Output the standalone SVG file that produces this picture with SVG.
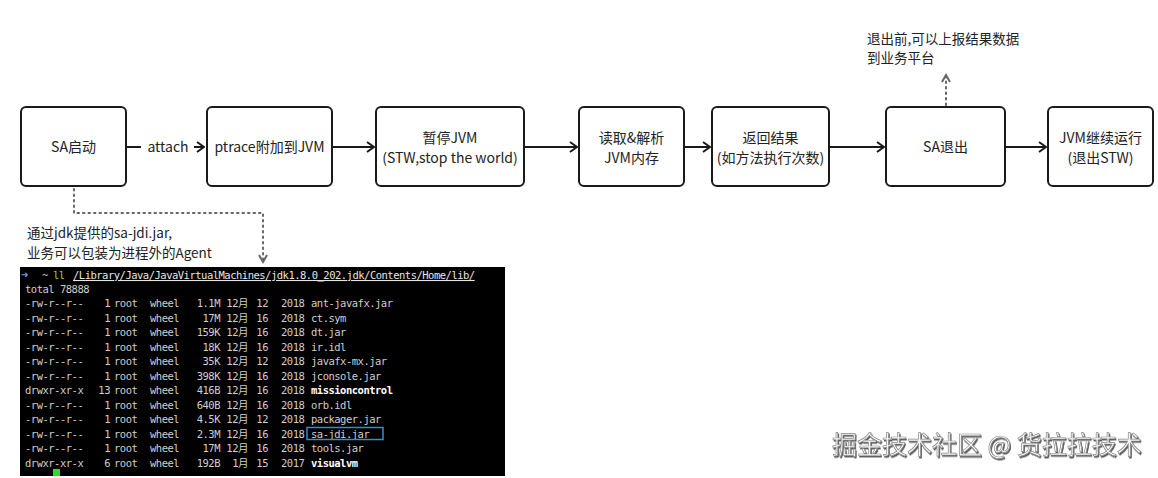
<svg xmlns="http://www.w3.org/2000/svg" width="1158" height="478" viewBox="0 0 1158 478">
<defs>
<style>
.box{fill:#fff;stroke:#1a1a1a;stroke-width:2}
.lbl{font-family:"Noto Sans CJK SC","Noto Sans",sans-serif;font-size:14px;fill:#222;text-anchor:middle}
.note{font-family:"Noto Sans CJK SC","Noto Sans",sans-serif;font-size:13.5px;fill:#222}
.edge{fill:none;stroke:#1a1a1a;stroke-width:2}
.dot{fill:none;stroke:#666;stroke-width:2;stroke-dasharray:1.5 4;stroke-linecap:round}
.t{font-family:"DejaVu Sans Mono","Liberation Mono","Noto Sans CJK SC",monospace;font-size:10.5px;fill:#cfcfcf;letter-spacing:-0.5px}
.r{text-anchor:end}
.b{font-weight:bold;fill:#fff}
</style>
<marker id="ah" viewBox="0 0 10 12" refX="9" refY="6" markerWidth="10" markerHeight="12" markerUnits="userSpaceOnUse" orient="auto">
<path d="M2,1 L9,6 L2,11" fill="none" stroke="#1a1a1a" stroke-width="2"/>
</marker>
<marker id="ahg" viewBox="0 0 12 10" refX="10" refY="5" markerWidth="12" markerHeight="10" markerUnits="userSpaceOnUse" orient="auto">
<path d="M2,1 L9,5 L2,9" fill="none" stroke="#666" stroke-width="2"/>
</marker>
<filter id="sh" x="-5%" y="-20%" width="110%" height="140%">
<feDropShadow dx="1" dy="1.5" stdDeviation="0.6" flood-color="#444" flood-opacity="0.9"/>
</filter>
</defs>
<rect width="1158" height="478" fill="#fff"/>

<g id="connectors">
<line class="edge" x1="126" y1="147" x2="204" y2="147" marker-end="url(#ah)"/>
<rect x="141" y="136" width="53" height="22" fill="#fff"/>
<text class="lbl" x="168" y="152">attach</text>
<line class="edge" x1="333" y1="147" x2="374" y2="147" marker-end="url(#ah)"/>
<line class="edge" x1="525" y1="147" x2="577" y2="147" marker-end="url(#ah)"/>
<line class="edge" x1="685" y1="147" x2="710" y2="147" marker-end="url(#ah)"/>
<line class="edge" x1="830" y1="147" x2="884" y2="147" marker-end="url(#ah)"/>
<line class="edge" x1="1006" y1="147" x2="1046" y2="147" marker-end="url(#ah)"/>
<path class="dot" d="M946,105 L946,74" marker-end="url(#ahg)"/>
<path class="dot" d="M74,189 L74,213 L263,213 L263,263" marker-end="url(#ahg)"/>
</g>

<g id="n1"><rect class="box" x="21" y="107" width="105" height="79" rx="5"/><text class="lbl" x="73.5" y="152">SA启动</text></g>
<g id="n2"><rect class="box" x="207" y="107" width="125" height="79" rx="5"/><text class="lbl" x="269.5" y="152">ptrace附加到JVM</text></g>
<g id="n3"><rect class="box" x="376" y="107" width="148" height="79" rx="5"/><text class="lbl" x="450" y="143">暂停JVM</text><text class="lbl" x="450" y="163">(STW,stop the world)</text></g>
<g id="n4"><rect class="box" x="579" y="107" width="105" height="79" rx="5"/><text class="lbl" x="631.5" y="143">读取&amp;解析</text><text class="lbl" x="631.5" y="163">JVM内存</text></g>
<g id="n5"><rect class="box" x="712" y="107" width="117" height="79" rx="5"/><text class="lbl" x="770.5" y="143">返回结果</text><text class="lbl" x="770.5" y="163">(如方法执行次数)</text></g>
<g id="n6"><rect class="box" x="886" y="107" width="119" height="79" rx="5"/><text class="lbl" x="945.5" y="152">SA退出</text></g>
<g id="n7"><rect class="box" x="1048" y="107" width="105" height="79" rx="5"/><text class="lbl" x="1100.5" y="143">JVM继续运行</text><text class="lbl" x="1100.5" y="163">(退出STW)</text></g>

<g id="note-exit">
<text class="note" x="867" y="44">退出前,可以上报结果数据</text>
<text class="note" x="867" y="63">到业务平台</text>
</g>
<g id="note-agent">
<text class="note" x="27" y="238">通过jdk提供的sa-jdi.jar,</text>
<text class="note" x="27" y="258">业务可以包装为进程外的Agent</text>
</g>

<g id="terminal">
<rect x="20" y="267" width="485" height="209" fill="#000"/>
<text class="t" x="21" y="279" style="fill:#7b8fe8;font-size:12px">➜</text>
<text class="t" x="42" y="279" style="fill:#bbb">~</text>
<text class="t" x="53" y="279" style="fill:#8fd14f">ll</text>
<text class="t" x="73" y="279" style="fill:#e6e6e6;text-decoration:underline">/Library/Java/JavaVirtualMachines/jdk1.8.0_202.jdk/Contents/Home/lib/</text>
<text class="t" x="25" y="293">total 78888</text>

<g>
<text class="t" x="25" y="307">-rw-r--r--</text><text class="t r" x="110" y="307">1</text><text class="t" x="114" y="307">root</text><text class="t" x="150" y="307">wheel</text><text class="t r" x="220" y="307">1.1M</text><text class="t r" x="248" y="307">12月</text><text class="t r" x="268" y="307">12</text><text class="t" x="281" y="307">2018</text><text class="t" x="311" y="307">ant-javafx.jar</text>
</g>
<g>
<text class="t" x="25" y="321.5">-rw-r--r--</text><text class="t r" x="110" y="321.5">1</text><text class="t" x="114" y="321.5">root</text><text class="t" x="150" y="321.5">wheel</text><text class="t r" x="220" y="321.5">17M</text><text class="t r" x="248" y="321.5">12月</text><text class="t r" x="268" y="321.5">16</text><text class="t" x="281" y="321.5">2018</text><text class="t" x="311" y="321.5">ct.sym</text>
</g>
<g>
<text class="t" x="25" y="336">-rw-r--r--</text><text class="t r" x="110" y="336">1</text><text class="t" x="114" y="336">root</text><text class="t" x="150" y="336">wheel</text><text class="t r" x="220" y="336">159K</text><text class="t r" x="248" y="336">12月</text><text class="t r" x="268" y="336">16</text><text class="t" x="281" y="336">2018</text><text class="t" x="311" y="336">dt.jar</text>
</g>
<g>
<text class="t" x="25" y="350.5">-rw-r--r--</text><text class="t r" x="110" y="350.5">1</text><text class="t" x="114" y="350.5">root</text><text class="t" x="150" y="350.5">wheel</text><text class="t r" x="220" y="350.5">18K</text><text class="t r" x="248" y="350.5">12月</text><text class="t r" x="268" y="350.5">16</text><text class="t" x="281" y="350.5">2018</text><text class="t" x="311" y="350.5">ir.idl</text>
</g>
<g>
<text class="t" x="25" y="365">-rw-r--r--</text><text class="t r" x="110" y="365">1</text><text class="t" x="114" y="365">root</text><text class="t" x="150" y="365">wheel</text><text class="t r" x="220" y="365">35K</text><text class="t r" x="248" y="365">12月</text><text class="t r" x="268" y="365">12</text><text class="t" x="281" y="365">2018</text><text class="t" x="311" y="365">javafx-mx.jar</text>
</g>
<g>
<text class="t" x="25" y="379.5">-rw-r--r--</text><text class="t r" x="110" y="379.5">1</text><text class="t" x="114" y="379.5">root</text><text class="t" x="150" y="379.5">wheel</text><text class="t r" x="220" y="379.5">398K</text><text class="t r" x="248" y="379.5">12月</text><text class="t r" x="268" y="379.5">16</text><text class="t" x="281" y="379.5">2018</text><text class="t" x="311" y="379.5">jconsole.jar</text>
</g>
<g>
<text class="t" x="25" y="394">drwxr-xr-x</text><text class="t r" x="110" y="394">13</text><text class="t" x="114" y="394">root</text><text class="t" x="150" y="394">wheel</text><text class="t r" x="220" y="394">416B</text><text class="t r" x="248" y="394">12月</text><text class="t r" x="268" y="394">16</text><text class="t" x="281" y="394">2018</text><text class="t b" x="311" y="394">missioncontrol</text>
</g>
<g>
<text class="t" x="25" y="408.5">-rw-r--r--</text><text class="t r" x="110" y="408.5">1</text><text class="t" x="114" y="408.5">root</text><text class="t" x="150" y="408.5">wheel</text><text class="t r" x="220" y="408.5">640B</text><text class="t r" x="248" y="408.5">12月</text><text class="t r" x="268" y="408.5">16</text><text class="t" x="281" y="408.5">2018</text><text class="t" x="311" y="408.5">orb.idl</text>
</g>
<g>
<text class="t" x="25" y="423">-rw-r--r--</text><text class="t r" x="110" y="423">1</text><text class="t" x="114" y="423">root</text><text class="t" x="150" y="423">wheel</text><text class="t r" x="220" y="423">4.5K</text><text class="t r" x="248" y="423">12月</text><text class="t r" x="268" y="423">12</text><text class="t" x="281" y="423">2018</text><text class="t" x="311" y="423">packager.jar</text>
</g>
<g>
<text class="t" x="25" y="437.5">-rw-r--r--</text><text class="t r" x="110" y="437.5">1</text><text class="t" x="114" y="437.5">root</text><text class="t" x="150" y="437.5">wheel</text><text class="t r" x="220" y="437.5">2.3M</text><text class="t r" x="248" y="437.5">12月</text><text class="t r" x="268" y="437.5">16</text><text class="t" x="281" y="437.5">2018</text><text class="t" x="311" y="437.5">sa-jdi.jar</text>
<rect x="307" y="427.5" width="76" height="12" fill="none" stroke="#2f8fd3" stroke-width="1.5"/>
</g>
<g>
<text class="t" x="25" y="452">-rw-r--r--</text><text class="t r" x="110" y="452">1</text><text class="t" x="114" y="452">root</text><text class="t" x="150" y="452">wheel</text><text class="t r" x="220" y="452">17M</text><text class="t r" x="248" y="452">12月</text><text class="t r" x="268" y="452">16</text><text class="t" x="281" y="452">2018</text><text class="t" x="311" y="452">tools.jar</text>
</g>
<g>
<text class="t" x="25" y="466.5">drwxr-xr-x</text><text class="t r" x="110" y="466.5">6</text><text class="t" x="114" y="466.5">root</text><text class="t" x="150" y="466.5">wheel</text><text class="t r" x="220" y="466.5">192B</text><text class="t r" x="248" y="466.5">1月</text><text class="t r" x="268" y="466.5">15</text><text class="t" x="281" y="466.5">2017</text><text class="t b" x="311" y="466.5">visualvm</text>
</g>
<rect x="53" y="469" width="7" height="7" fill="#3ad13a"/>
</g>

<g id="watermark">
<text x="832" y="454" font-family="Noto Sans CJK SC,sans-serif" font-size="25" fill="#fbfbfb" stroke="#8a8a8a" stroke-width="0.7" filter="url(#sh)">掘金技术社区 @ 货拉拉技术</text>
</g>
</svg>
